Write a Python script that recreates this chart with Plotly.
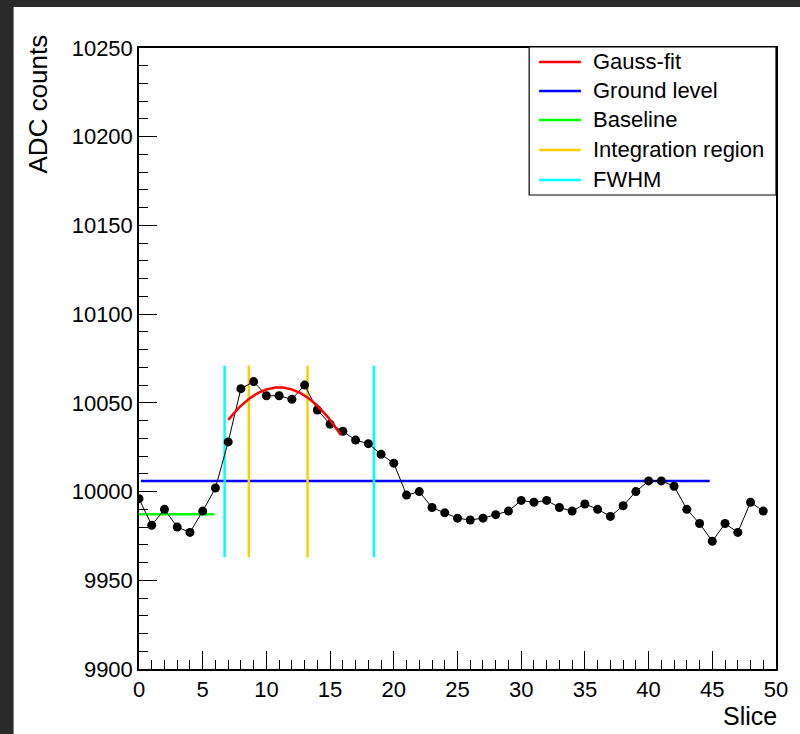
import numpy as np
import plotly.graph_objects as go

# ADC samples per slice
slices = list(range(50))
adc = [9996, 9981, 9990, 9980, 9977, 9989, 10002, 10028, 10058, 10062,
       10054, 10054, 10052, 10060, 10046, 10038, 10034, 10029, 10027, 10021,
       10016, 9998, 10000, 9991, 9988, 9985, 9984, 9985, 9987, 9989,
       9995, 9994, 9995, 9991, 9989, 9993, 9990, 9986, 9992, 10000,
       10006, 10006, 10003, 9990, 9982, 9972, 9982, 9977, 9994, 9989]

# Gauss fit result and its range
gaus_amp, gaus_mean, gaus_sigma = 10058.7, 11.0, 66.3
fit_range = [7.0, 15.85]

# Reference levels
ground_level = 10006
ground_range = [0.15, 44.8]
baseline = 9987.2
baseline_range = [0.0, 5.9]

# Marker lines
integration_x = [8.62, 13.23]
fwhm_x = [6.72, 18.44]
marker_y = [9963, 10071]

legend_labels = ["Gauss-fit", "Ground level", "Baseline", "Integration region", "FWHM"]
legend_colors = ["#ff0000", "#0000ff", "#00ff00", "#ffcc00", "#00ffff"]

FONT = "Liberation Sans, Arial, Helvetica, sans-serif"

# plot-area geometry in pixels
W, H = 800, 734
L, R, T, B = 139, 779, 48, 669


def px(xpix):
    return (xpix - L) / (R - L)


def py(ypix):
    return (B - ypix) / (B - T)


fig = go.Figure()

# reference levels
fig.add_trace(go.Scatter(x=ground_range, y=[ground_level] * 2, mode="lines",
                         line=dict(color=legend_colors[1], width=2.5), showlegend=False))
fig.add_trace(go.Scatter(x=baseline_range, y=[baseline] * 2, mode="lines",
                         line=dict(color=legend_colors[2], width=2.5), showlegend=False))

# vertical markers
for xv in fwhm_x:
    fig.add_trace(go.Scatter(x=[xv, xv], y=marker_y, mode="lines",
                             line=dict(color=legend_colors[4], width=2.5), showlegend=False))
for xv in integration_x:
    fig.add_trace(go.Scatter(x=[xv, xv], y=marker_y, mode="lines",
                             line=dict(color=legend_colors[3], width=2.5), showlegend=False))

# samples
fig.add_trace(go.Scatter(x=slices, y=adc, mode="lines+markers",
                         line=dict(color="black", width=1),
                         marker=dict(color="black", size=9), showlegend=False))

# gauss fit curve
xf = np.linspace(fit_range[0], fit_range[1], 200)
yf = gaus_amp * np.exp(-0.5 * ((xf - gaus_mean) / gaus_sigma) ** 2)
fig.add_trace(go.Scatter(x=xf, y=yf, mode="lines",
                         line=dict(color=legend_colors[0], width=2.5), showlegend=False))

shapes = [
    # white canvas inside the dark window border
    dict(type="rect", xref="paper", yref="paper", layer="below",
         x0=px(13), x1=px(W + 5), y0=py(7), y1=py(H + 5),
         fillcolor="white", line=dict(width=0)),
]

annotations = []

# legend box
lg_left, lg_right, lg_top, lg_bottom = 531, 779, 47, 195
shapes.append(dict(type="rect", xref="paper", yref="paper",
                   x0=px(lg_left), x1=px(lg_right), y0=py(lg_bottom), y1=py(lg_top),
                   fillcolor="white", line=dict(color="black", width=1.2)))
entry_y = [62, 91, 120, 150, 180]
for lab, col, ey in zip(legend_labels, legend_colors, entry_y):
    shapes.append(dict(type="line", xref="paper", yref="paper",
                       x0=px(541), x1=px(583), y0=py(ey), y1=py(ey),
                       line=dict(color=col, width=2.5)))
    annotations.append(dict(text=lab, xref="paper", yref="paper",
                            x=px(593), y=py(ey), xanchor="left", yanchor="middle",
                            showarrow=False, font=dict(family=FONT, size=22, color="black")))

# axis titles
annotations.append(dict(text="ADC counts", xref="paper", yref="paper",
                        x=px(38), y=py(104), xanchor="center", yanchor="middle",
                        textangle=-90, showarrow=False,
                        font=dict(family=FONT, size=26, color="black")))
annotations.append(dict(text="Slice", xref="paper", yref="paper",
                        x=px(782), y=py(716), xanchor="right", yanchor="middle",
                        showarrow=False, font=dict(family=FONT, size=25, color="black")))

fig.update_layout(
    width=W, height=H,
    margin=dict(l=L, r=W - R, t=T, b=H - B, pad=0),
    paper_bgcolor="#2a2a2a", plot_bgcolor="white",
    shapes=shapes, annotations=annotations,
    showlegend=False,
    font=dict(family=FONT, size=22, color="black"),
)

fig.update_xaxes(range=[0, 50], tickmode="linear", tick0=0, dtick=5,
                 ticks="inside", ticklen=18, tickwidth=1, tickcolor="black",
                 minor=dict(ticks="inside", ticklen=9, dtick=1, tickcolor="black", tickwidth=1),
                 showline=True, linecolor="black", linewidth=1.5, mirror=True,
                 showgrid=False, zeroline=False,
                 tickfont=dict(family=FONT, size=22, color="black"))
fig.update_yaxes(range=[9900, 10250], tickmode="linear", tick0=9900, dtick=50,
                 ticks="inside", ticklen=18, tickwidth=1, tickcolor="black",
                 minor=dict(ticks="inside", ticklen=9, dtick=10, tickcolor="black", tickwidth=1),
                 showline=True, linecolor="black", linewidth=1.5, mirror=True,
                 showgrid=False, zeroline=False, tickformat="d",
                 tickfont=dict(family=FONT, size=22, color="black"))

fig.write_html("out.html")
